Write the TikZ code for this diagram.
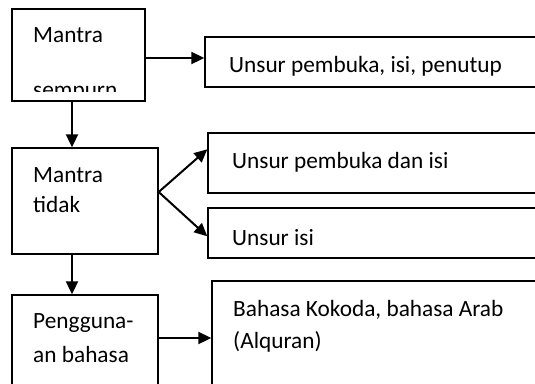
\documentclass[tikz,border=0pt]{standalone}
\usepackage{fontspec}
\setmainfont{Carlito}
\usetikzlibrary{arrows.meta,positioning,calc}
\tikzset{
  box/.style={draw,line width=1.4pt,inner sep=0pt},
  txt/.style={anchor=base west,inner sep=0pt,font=\fontsize{23.3}{27}\selectfont},
  arr/.style={line width=2pt,-{Triangle[length=13pt,width=12pt]}}
}

\begin{document}
\begin{tikzpicture}[x=1pt,y=-1pt]
  \clip (0,0) rectangle (535,383);
  \node[box,minimum width=133pt,minimum height=92pt] (mtsempurna) at (78.5,55) {};
  \node[box,minimum width=340pt,minimum height=50pt] (unsurlengkap) at (375,62) {};
  \node[box,minimum width=146pt,minimum height=106pt] (mttidak) at (85,201) {};
  \node[box,minimum width=340pt,minimum height=60pt] (unsurpembuka) at (378,163) {};
  \node[box,minimum width=340pt,minimum height=50pt] (unsurisi) at (378,233) {};
  \node[box,minimum width=146pt,minimum height=120pt] (penggunaan) at (85,355) {};
  \node[box,minimum width=340pt,minimum height=130pt] (bahasa) at (382,346) {};
  \coordinate (col) at (72,0);
  \node[txt] (tmantraa) at (33,42) {Mantra};
  \begin{scope}
    \clip (12,9) rectangle (145,91);
    \node[txt] (tsempurn) at (33,97) {sempurn};
  \end{scope}
  \node[txt] (tlengkap) at (229,72) {Unsur pembuka, isi, penutup};
  \node[txt] (tmantrab) at (33,182) {Mantra};
  \node[txt] (ttidak) at (33,212) {tidak};
  \node[txt] (tpembuka) at (232,168) {Unsur pembuka dan isi};
  \node[txt] (tisi) at (232,245) {Unsur isi};
  \node[txt] (tpengguna) at (33,328) {Pengguna-};
  \node[txt] (tbahasa) at (33,362) {an bahasa};
  \node[txt] (tkokoda) at (233,316) {Bahasa Kokoda, bahasa Arab};
  \node[txt] (talquran) at (233,348) {(Alquran)};
  \draw[arr] ([yshift=-3pt]mtsempurna.east) -- ([yshift=-3pt]mtsempurna.east -| unsurlengkap.west);
  \draw[arr] (col |- mtsempurna.south) -- (col |- mttidak.north);
  \draw[arr] ([yshift=9pt]mttidak.east) -- ([yshift=-17pt]unsurpembuka.north west);
  \draw[arr] ([yshift=9pt]mttidak.east) -- ([yshift=-29pt]unsurisi.north west);
  \draw[arr] (col |- mttidak.south) -- (col |- penggunaan.north);
  \draw[arr] ([yshift=17pt]penggunaan.east) -- ([yshift=17pt]penggunaan.east -| bahasa.west);
\end{tikzpicture}
\end{document}
